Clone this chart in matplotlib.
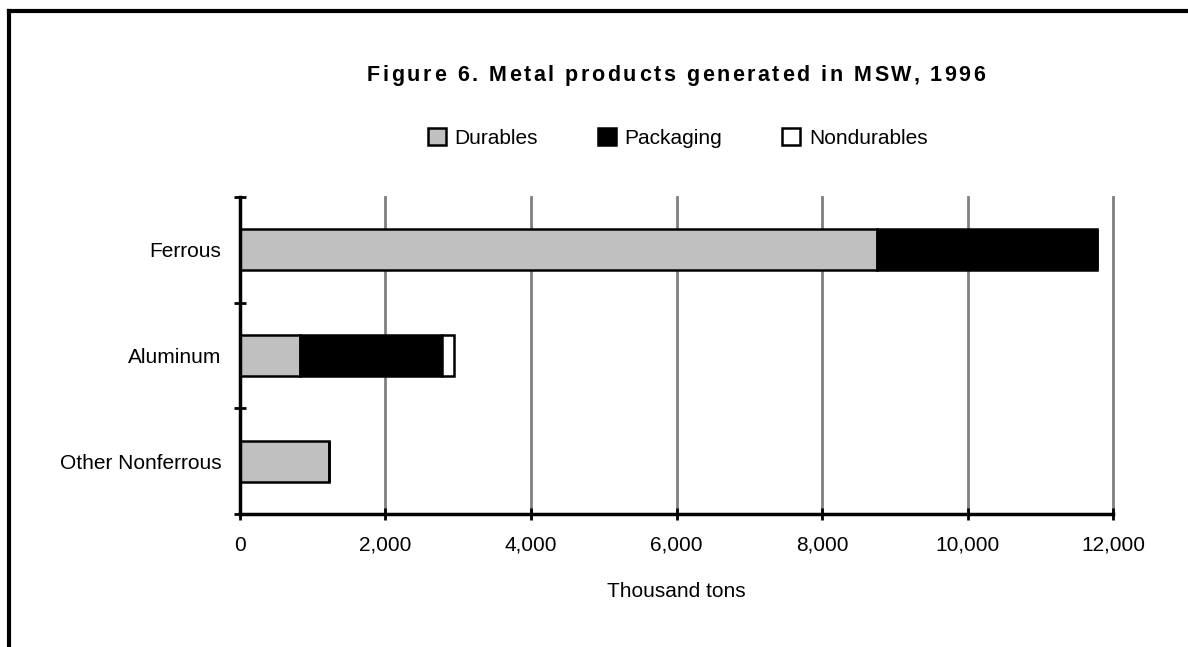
import numpy as np
import matplotlib
matplotlib.use('Agg')
import matplotlib.pyplot as plt
from matplotlib.lines import Line2D
from matplotlib.font_manager import FontProperties

plt.rcParams['font.family'] = ['Liberation Sans', 'DejaVu Sans']

# ── Data (thousand tons, 1996) ──
categories = ['Ferrous', 'Aluminum', 'Other Nonferrous']
durables = [8760, 820, 1220]
packaging = [3020, 1950, 0]
nondurables = [0, 170, 0]
xticks = [0, 2000, 4000, 6000, 8000, 10000, 12000]

title = 'Figure 6. Metal products generated in MSW, 1996'

fig = plt.figure(figsize=(11.88, 6.47), dpi=100)
ax = fig.add_axes([0.2020, 0.2056, 0.7349, 0.4899])

y = np.arange(len(categories))
h = 0.39
left2 = np.array(durables)
left3 = left2 + np.array(packaging)

b1 = ax.barh(y, durables, height=h, color='#c0c0c0', edgecolor='black', linewidth=1.8, zorder=3, label='Durables')
b2 = ax.barh(y, packaging, height=h, left=left2, color='black', edgecolor='black', linewidth=1.8, zorder=3, label='Packaging')
b3 = ax.barh(y, nondurables, height=h, left=left3, color='white', edgecolor='black', linewidth=1.8, zorder=3, label='Nondurables')

ax.set_xlim(0, 12000)
ax.set_ylim(2.5, -0.5)

# gridlines
for xv in xticks[1:]:
    ax.axvline(xv, color='#808080', linewidth=2, zorder=1, clip_on=False)

ax.set_xticks(xticks)
ax.set_xticklabels([f'{v:,}' for v in xticks], fontsize=15)
ax.tick_params(axis='x', direction='inout', length=9, width=2, pad=11)

ax.set_yticks([-0.5, 0.5, 1.5, 2.5])
ax.set_yticklabels([])
ax.tick_params(axis='y', which='major', direction='inout', length=9, width=2)
ax.set_yticks(y, minor=True)
ax.set_yticklabels(categories, minor=True, fontsize=15)
ax.tick_params(axis='y', which='minor', length=0, pad=13.5)

for s in ['top', 'right']:
    ax.spines[s].set_visible(False)
for s in ['left', 'bottom']:
    ax.spines[s].set_linewidth(2.5)
    ax.spines[s].set_zorder(4)

ax.set_xlabel('Thousand tons', fontsize=15, labelpad=20)

# letter-spaced bold title, placed glyph by glyph
renderer = fig.canvas.get_renderer()
tprop = FontProperties(family='Liberation Sans', weight='bold', size=15.5)
target_w = 618.0
def text_w(s):
    if not s:
        return 0.0
    return renderer.get_text_width_height_descent(s, tprop, ismath=False)[0]
base_w = text_w(title)
extra = (target_w - base_w) / (len(title) - 1)
x0 = 676 - target_w / 2
W, H = fig.bbox.width, fig.bbox.height
for i, ch in enumerate(title):
    if ch == ' ':
        continue
    xp = x0 + text_w(title[:i]) + i * extra
    fig.text(xp / W, 1 - 81 / H, ch, ha='left', va='baseline', fontproperties=tprop)

leg = fig.legend(handles=[b1, b2, b3], loc='center', bbox_to_anchor=(0.5703, 0.787),
                 ncol=3, frameon=False, fontsize=15, handlelength=0.9,
                 handleheight=0.9, handletextpad=0.4, columnspacing=2.85)

# outer frame (cropped box)
fig.add_artist(Line2D([0.0073, 1.0], [0.983, 0.983], color='black', linewidth=3, transform=fig.transFigure))
fig.add_artist(Line2D([0.0073, 0.0073], [0.983, 0.0], color='black', linewidth=3, transform=fig.transFigure))

fig.savefig('out.png', dpi=100)
